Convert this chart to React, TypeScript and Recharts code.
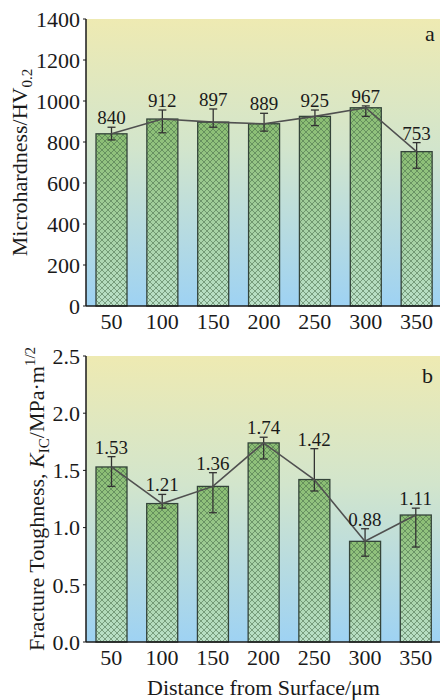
import React from "react";
import {
    ComposedChart, Bar, Line, XAxis, YAxis, CartesianGrid,
    ErrorBar, LabelList,
} from "recharts";

// ─── DATA ─────────────────────────────────────────────────────────────────────

const distances = ["50", "100", "150", "200", "250", "300", "350"];

const hardness = [840, 912, 897, 889, 925, 967, 753];
const hardnessErrLow = [30, 67, 25, 36, 45, 42, 81];
const hardnessErrHigh = [32, 44, 64, 51, 31, 9, 44];
const hardnessTicks = [0, 200, 400, 600, 800, 1000, 1200, 1400];

const toughness = [1.53, 1.21, 1.36, 1.74, 1.42, 0.88, 1.11];
const toughnessErrLow = [0.17, 0.04, 0.23, 0.14, 0.1, 0.13, 0.28];
const toughnessErrHigh = [0.09, 0.08, 0.12, 0.05, 0.27, 0.11, 0.06];
const toughnessTicks = [0, 0.5, 1.0, 1.5, 2.0, 2.5];

const hardnessRows = distances.map((d, i) => ({
    d,
    v: hardness[i],
    err: [hardnessErrLow[i], hardnessErrHigh[i]],
    top: hardness[i] + hardnessErrHigh[i],
}));

const toughnessRows = distances.map((d, i) => ({
    d,
    v: toughness[i],
    err: [toughnessErrLow[i], toughnessErrHigh[i]],
    top: toughness[i] + toughnessErrHigh[i],
}));

// ─── STYLE ────────────────────────────────────────────────────────────────────

const FONT = "'Liberation Serif', 'Times New Roman', serif";
const INK = "#1a1a1a";
const LINE = "#505050";

const tickStyle = { fill: INK, fontSize: 22, fontFamily: FONT };

function Defs({ id }: { id: string }) {
    return (
        <defs>
            <linearGradient id={`bg-${id}`} x1="0" y1="0" x2="0" y2="1">
                <stop offset="0%" stopColor="#eeeab2" />
                <stop offset="45%" stopColor="#d2e5cc" />
                <stop offset="100%" stopColor="#9ed2f3" />
            </linearGradient>
            <linearGradient id={`bar-${id}`} x1="0" y1="0" x2="0" y2="1">
                <stop offset="0%" stopColor="#8abd72" />
                <stop offset="100%" stopColor="#bae0c8" />
            </linearGradient>
            <pattern id={`hatch-${id}`} patternUnits="userSpaceOnUse" width={6} height={6}>
                <path d="M0,0 L6,6 M6,0 L0,6" stroke="#456848" strokeWidth={0.7} opacity={0.8} />
            </pattern>
        </defs>
    );
}

function HatchBar(props: any) {
    const { x, y, width, height, id } = props;
    if (!height || height <= 0) return null;
    return (
        <g>
            <rect x={x} y={y} width={width} height={height} fill={`url(#bar-${id})`} />
            <rect
                x={x} y={y} width={width} height={height}
                fill={`url(#hatch-${id})`} stroke="#34443a" strokeWidth={1.3}
            />
        </g>
    );
}

function LabelTop({ viewBox }: any) {
    const x = 27;
    const y = viewBox.y + viewBox.height / 2;
    return (
        <text
            x={x} y={y} transform={`rotate(-90 ${x} ${y})`}
            textAnchor="middle" fontSize={22} fontFamily={FONT} fill={INK}
        >
            Microhardness/HV<tspan dy={5} fontSize={15}>0.2</tspan>
        </text>
    );
}

function LabelBottom({ viewBox }: any) {
    const x = 44;
    const y = viewBox.y + viewBox.height / 2;
    return (
        <text
            x={x} y={y} transform={`rotate(-90 ${x} ${y})`}
            textAnchor="middle" fontSize={22} fontFamily={FONT} fill={INK}
        >
            Fracture Toughness, <tspan fontStyle="italic">K</tspan>
            <tspan dy={5} fontSize={15}>IC</tspan>
            <tspan dy={-5}>/MPa·m</tspan>
            <tspan dy={-9} fontSize={15}>1/2</tspan>
        </text>
    );
}

function Panel({
    id, rows, ticks, domain, fmtTick, fmtLabel, height, marginTop, xHeight, right, yLabel, xLabel,
}: any) {
    return (
        <ComposedChart
            width={446} height={height} data={rows}
            margin={{ top: marginTop, right, left: 0, bottom: 0 }}
        >
            <Defs id={id} />
            <CartesianGrid fill={`url(#bg-${id})`} horizontal={false} vertical={false} stroke="none" />
            <XAxis
                dataKey="d" height={xHeight} tickSize={0} tickMargin={7}
                tick={tickStyle} axisLine={{ stroke: INK, strokeWidth: 1.5 }} tickLine={false}
                label={xLabel}
            />
            <XAxis
                xAxisId="top" dataKey="d" orientation="top" height={0}
                tick={false} tickLine={false} axisLine={{ stroke: INK, strokeWidth: 1.5 }}
            />
            <YAxis
                width={86} domain={domain} ticks={ticks} interval={0}
                tick={tickStyle} tickFormatter={fmtTick} tickSize={3} tickMargin={3}
                axisLine={{ stroke: INK, strokeWidth: 1.5 }} tickLine={{ stroke: INK }}
                label={yLabel}
            />
            <Bar
                dataKey="v" barSize={31} isAnimationActive={false}
                shape={(p: any) => <HatchBar {...p} id={id} />}
            >
                <ErrorBar
                    dataKey="err" direction="y" width={4} stroke="#333" strokeWidth={1.3}
                    isAnimationActive={false}
                />
            </Bar>
            <Line
                dataKey="v" stroke={LINE} strokeWidth={1.6} dot={false} activeDot={false}
                isAnimationActive={false}
            />
            <Line
                dataKey="top" stroke="none" dot={false} activeDot={false} isAnimationActive={false}
            >
                <LabelList
                    dataKey="v" position="top" offset={3} formatter={fmtLabel}
                    style={{ fill: INK, fontSize: 19, fontFamily: FONT }}
                />
            </Line>
        </ComposedChart>
    );
}

export default function App() {
    return (
        <div
            style={{
                position: "absolute", left: 0, top: 0, width: 440, height: 700,
                overflow: "hidden", background: "#fff", fontFamily: FONT,
            }}
        >
            <div style={{ position: "absolute", left: 0, top: 0 }}>
                <Panel
                    id="a" rows={hardnessRows} ticks={hardnessTicks} domain={[0, 1400]}
                    fmtTick={(v: number) => `${v}`} fmtLabel={(v: number) => `${v}`}
                    height={345} marginTop={19} xHeight={39} right={4}
                    yLabel={<LabelTop />}
                />
            </div>
            <div style={{ position: "absolute", left: 0, top: 330 }}>
                <Panel
                    id="b" rows={toughnessRows} ticks={toughnessTicks} domain={[0, 2.5]}
                    fmtTick={(v: number) => v.toFixed(1)} fmtLabel={(v: number) => v.toFixed(2)}
                    height={370} marginTop={26} xHeight={58} right={5}
                    yLabel={<LabelBottom />}
                    xLabel={{
                        value: "Distance from Surface/μm", position: "insideBottom", offset: 5,
                        style: { fill: INK, fontSize: 22, fontFamily: FONT },
                    }}
                />
            </div>
            <div style={{ position: "absolute", left: 425, top: 23, fontSize: 22, lineHeight: 1, color: INK }}>a</div>
            <div style={{ position: "absolute", left: 422, top: 365, fontSize: 22, lineHeight: 1, color: INK }}>b</div>
        </div>
    );
}
